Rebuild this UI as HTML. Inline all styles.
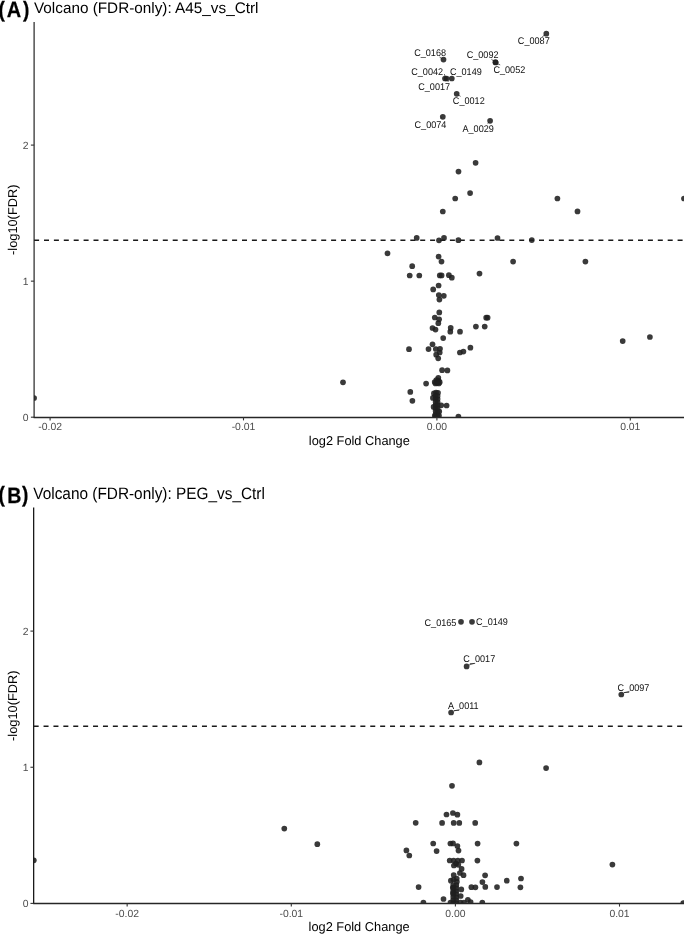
<!DOCTYPE html>
<html><head><meta charset="utf-8"><title>Volcano plots</title>
<style>html,body{margin:0;padding:0;background:#fff;width:685px;height:934px;overflow:hidden}svg{display:block;will-change:transform;text-rendering:geometricPrecision;font-family:"Liberation Sans",sans-serif}</style>
</head><body>
<svg width="685" height="934" viewBox="0 0 685 934" font-family="Liberation Sans, sans-serif">
<rect width="685" height="934" fill="#fff"/>
<clipPath id="ct"><rect x="34.1" y="16.9" width="649.9" height="400.3"/></clipPath>
<line x1="34.1" y1="240.19" x2="684.0" y2="240.19" stroke="#1a1a1a" stroke-width="1.4" stroke-dasharray="5 4.9"/>
<g clip-path="url(#ct)" fill="#1f1f1f" fill-opacity="0.88">
<circle cx="546.3" cy="33.7" r="2.85"/>
<circle cx="443.5" cy="59.6" r="2.85"/>
<circle cx="495.4" cy="62.2" r="2.85"/>
<circle cx="495.7" cy="62.5" r="2.85"/>
<circle cx="445.0" cy="78.5" r="2.85"/>
<circle cx="446.6" cy="78.5" r="2.85"/>
<circle cx="451.8" cy="78.5" r="2.85"/>
<circle cx="456.7" cy="93.8" r="2.85"/>
<circle cx="442.8" cy="116.8" r="2.85"/>
<circle cx="490.1" cy="120.8" r="2.85"/>
<circle cx="475.6" cy="162.8" r="2.85"/>
<circle cx="458.5" cy="171.6" r="2.85"/>
<circle cx="470.1" cy="193.1" r="2.85"/>
<circle cx="455.2" cy="198.5" r="2.85"/>
<circle cx="442.8" cy="211.5" r="2.85"/>
<circle cx="444.0" cy="237.9" r="2.85"/>
<circle cx="439.0" cy="240.3" r="2.85"/>
<circle cx="458.4" cy="240.2" r="2.85"/>
<circle cx="497.5" cy="238.0" r="2.85"/>
<circle cx="416.7" cy="237.9" r="2.85"/>
<circle cx="557.4" cy="198.5" r="2.85"/>
<circle cx="577.5" cy="211.4" r="2.85"/>
<circle cx="684.0" cy="198.5" r="2.85"/>
<circle cx="531.8" cy="240.1" r="2.85"/>
<circle cx="513.1" cy="261.6" r="2.85"/>
<circle cx="585.4" cy="261.6" r="2.85"/>
<circle cx="387.5" cy="253.4" r="2.85"/>
<circle cx="438.6" cy="256.6" r="2.85"/>
<circle cx="441.5" cy="261.6" r="2.85"/>
<circle cx="412.2" cy="266.2" r="2.85"/>
<circle cx="409.7" cy="275.5" r="2.85"/>
<circle cx="419.3" cy="275.5" r="2.85"/>
<circle cx="448.9" cy="275.2" r="2.85"/>
<circle cx="451.8" cy="277.7" r="2.85"/>
<circle cx="479.5" cy="273.6" r="2.85"/>
<circle cx="438.6" cy="285.5" r="2.85"/>
<circle cx="433.2" cy="289.4" r="2.85"/>
<circle cx="438.8" cy="295.0" r="2.85"/>
<circle cx="443.8" cy="295.8" r="2.85"/>
<circle cx="439.4" cy="299.6" r="2.85"/>
<circle cx="439.3" cy="312.4" r="2.85"/>
<circle cx="434.8" cy="317.5" r="2.85"/>
<circle cx="439.1" cy="319.3" r="2.85"/>
<circle cx="438.3" cy="323.2" r="2.85"/>
<circle cx="432.5" cy="328.0" r="2.85"/>
<circle cx="435.5" cy="329.6" r="2.85"/>
<circle cx="450.7" cy="327.9" r="2.85"/>
<circle cx="450.3" cy="331.7" r="2.85"/>
<circle cx="460.0" cy="331.7" r="2.85"/>
<circle cx="475.9" cy="326.6" r="2.85"/>
<circle cx="484.7" cy="326.6" r="2.85"/>
<circle cx="486.2" cy="317.7" r="2.85"/>
<circle cx="487.6" cy="317.7" r="2.85"/>
<circle cx="443.2" cy="338.1" r="2.85"/>
<circle cx="432.5" cy="344.3" r="2.85"/>
<circle cx="428.5" cy="349.1" r="2.85"/>
<circle cx="409.0" cy="349.2" r="2.85"/>
<circle cx="435.8" cy="349.0" r="2.85"/>
<circle cx="440.0" cy="348.8" r="2.85"/>
<circle cx="439.7" cy="352.5" r="2.85"/>
<circle cx="436.2" cy="354.7" r="2.85"/>
<circle cx="438.2" cy="358.3" r="2.85"/>
<circle cx="459.9" cy="352.5" r="2.85"/>
<circle cx="463.4" cy="351.6" r="2.85"/>
<circle cx="470.4" cy="347.7" r="2.85"/>
<circle cx="622.7" cy="341.1" r="2.85"/>
<circle cx="649.9" cy="337.0" r="2.85"/>
<circle cx="442.1" cy="370.2" r="2.85"/>
<circle cx="447.4" cy="370.4" r="2.85"/>
<circle cx="438.3" cy="377.8" r="2.85"/>
<circle cx="426.1" cy="383.6" r="2.85"/>
<circle cx="343.0" cy="382.3" r="2.85"/>
<circle cx="410.3" cy="391.9" r="2.85"/>
<circle cx="412.4" cy="400.8" r="2.85"/>
<circle cx="34.1" cy="398.0" r="2.85"/>
<circle cx="458.4" cy="416.5" r="2.85"/>
<circle cx="438.0" cy="392.8" r="2.85"/>
<circle cx="433.9" cy="393.4" r="2.85"/>
<circle cx="436.0" cy="392.5" r="2.85"/>
<circle cx="432.9" cy="397.9" r="2.85"/>
<circle cx="435.6" cy="396" r="2.85"/>
<circle cx="437.6" cy="396" r="2.85"/>
<circle cx="435.6" cy="399" r="2.85"/>
<circle cx="437.6" cy="399" r="2.85"/>
<circle cx="435.6" cy="402" r="2.85"/>
<circle cx="437.6" cy="402" r="2.85"/>
<circle cx="435.6" cy="405" r="2.85"/>
<circle cx="437.6" cy="405" r="2.85"/>
<circle cx="435.6" cy="408" r="2.85"/>
<circle cx="437.6" cy="408" r="2.85"/>
<circle cx="435.6" cy="411" r="2.85"/>
<circle cx="437.6" cy="411" r="2.85"/>
<circle cx="435.6" cy="414" r="2.85"/>
<circle cx="437.6" cy="414" r="2.85"/>
<circle cx="435.6" cy="417" r="2.85"/>
<circle cx="437.6" cy="417" r="2.85"/>
<circle cx="441.2" cy="405.3" r="2.85"/>
<circle cx="446.6" cy="405.5" r="2.85"/>
<circle cx="433.6" cy="406.9" r="2.85"/>
<circle cx="439.2" cy="411.4" r="2.85"/>
<circle cx="434.8" cy="415.8" r="2.85"/>
<circle cx="439.0" cy="415.8" r="2.85"/>
<circle cx="434.7" cy="382.0" r="2.85"/>
<circle cx="437.0" cy="383.0" r="2.85"/>
<circle cx="439.7" cy="382.2" r="2.85"/>
<circle cx="436.3" cy="380.2" r="2.85"/>
<circle cx="438.6" cy="380.6" r="2.85"/>
<circle cx="437.3" cy="381.6" r="2.85"/>
<circle cx="435.5" cy="383.5" r="2.85"/>
<circle cx="438.8" cy="383.5" r="2.85"/>
<circle cx="439.8" cy="275.4" r="2.85"/>
<circle cx="441.6" cy="275.4" r="2.85"/>
</g>
<line x1="542.2" y1="36.9" x2="545.0" y2="34.6" stroke="#222" stroke-width="0.7"/>
<line x1="439.6" y1="57.1" x2="442.2" y2="58.8" stroke="#222" stroke-width="0.7"/>
<line x1="491.4" y1="59.3" x2="494.0" y2="61.2" stroke="#222" stroke-width="0.7"/>
<line x1="497.0" y1="63.5" x2="500.2" y2="64.9" stroke="#222" stroke-width="0.7"/>
<line x1="444.3" y1="74.0" x2="445.2" y2="76.5" stroke="#222" stroke-width="0.7"/>
<line x1="447.6" y1="80.6" x2="448.4" y2="81.8" stroke="#222" stroke-width="0.7"/>
<line x1="457.7" y1="94.5" x2="460.6" y2="96.4" stroke="#222" stroke-width="0.7"/>
<line x1="440.6" y1="118.4" x2="442.0" y2="117.4" stroke="#222" stroke-width="0.7"/>
<line x1="489.0" y1="122.2" x2="487.6" y2="123.4" stroke="#222" stroke-width="0.7"/>
<g font-size="9.1" fill="#111">
<text transform="translate(517.84 44.30) scale(1 1.07)">C_0087</text>
<text transform="translate(414.15 55.80) scale(1 1.07)">C_0168</text>
<text transform="translate(466.65 57.90) scale(1 1.07)">C_0092</text>
<text transform="translate(493.44 73.20) scale(1 1.07)">C_0052</text>
<text transform="translate(411.25 74.60) scale(1 1.07)">C_0042</text>
<text transform="translate(449.94 74.60) scale(1 1.07)">C_0149</text>
<text transform="translate(418.25 90.00) scale(1 1.07)">C_0017</text>
<text transform="translate(452.85 104.30) scale(1 1.07)">C_0012</text>
<text transform="translate(414.55 128.20) scale(1 1.07)">C_0074</text>
<text transform="translate(462.50 132.10) scale(1 1.07)">A_0029</text>
</g>
<line x1="34.1" y1="21.9" x2="34.1" y2="417.8" stroke="#1a1a1a" stroke-width="1.15"/>
<line x1="33.6" y1="417.5" x2="684.0" y2="417.5" stroke="#262626" stroke-width="1.55"/>
<line x1="30.900000000000002" y1="417.20" x2="34.1" y2="417.20" stroke="#333" stroke-width="1.1"/>
<text x="28.6" y="420.95" font-size="10.4" fill="#4d4d4d" text-anchor="end">0</text>
<line x1="30.900000000000002" y1="281.15" x2="34.1" y2="281.15" stroke="#333" stroke-width="1.1"/>
<text x="28.6" y="284.90" font-size="10.4" fill="#4d4d4d" text-anchor="end">1</text>
<line x1="30.900000000000002" y1="145.10" x2="34.1" y2="145.10" stroke="#333" stroke-width="1.1"/>
<text x="28.6" y="148.85" font-size="10.4" fill="#4d4d4d" text-anchor="end">2</text>
<line x1="50.1" y1="417.2" x2="50.1" y2="420.4" stroke="#333" stroke-width="1.1"/>
<text x="50.1" y="430.40" font-size="10.4" fill="#4d4d4d" text-anchor="middle">-0.02</text>
<line x1="243.5" y1="417.2" x2="243.5" y2="420.4" stroke="#333" stroke-width="1.1"/>
<text x="243.5" y="430.40" font-size="10.4" fill="#4d4d4d" text-anchor="middle">-0.01</text>
<line x1="436.9" y1="417.2" x2="436.9" y2="420.4" stroke="#333" stroke-width="1.1"/>
<text x="436.9" y="430.40" font-size="10.4" fill="#4d4d4d" text-anchor="middle">0.00</text>
<line x1="630.3" y1="417.2" x2="630.3" y2="420.4" stroke="#333" stroke-width="1.1"/>
<text x="630.3" y="430.40" font-size="10.4" fill="#4d4d4d" text-anchor="middle">0.01</text>
<text x="359.35" y="445.20" font-size="12.8" fill="#000" text-anchor="middle">log2 Fold Change</text>
<text transform="translate(17.0 219.75) rotate(-90)" font-size="12.8" fill="#000" text-anchor="middle">-log10(FDR)</text>
<text transform="translate(34.0 12.7) scale(1 1.0)" font-size="15.3" fill="#000">Volcano (FDR-only): A45_vs_Ctrl</text>
<g font-weight="bold" fill="#000" stroke="#000" stroke-width="0.25">
<text transform="translate(-1.59 16.60) scale(0.86 1)" font-size="22.2">(</text>
<text transform="translate(6.8 16.50) scale(0.9 1)" font-size="22.2">A</text>
<text transform="translate(23.1 16.60) scale(0.86 1)" font-size="22.2">)</text>
</g>
<clipPath id="cb"><rect x="33.65" y="502.6" width="650.35" height="400.79999999999995"/></clipPath>
<line x1="33.65" y1="726.26" x2="684.0" y2="726.26" stroke="#1a1a1a" stroke-width="1.4" stroke-dasharray="5 4.9"/>
<g clip-path="url(#cb)" fill="#1f1f1f" fill-opacity="0.88">
<circle cx="461.0" cy="621.8" r="2.85"/>
<circle cx="472.0" cy="621.8" r="2.85"/>
<circle cx="466.6" cy="666.4" r="2.85"/>
<circle cx="451.1" cy="712.5" r="2.85"/>
<circle cx="621.3" cy="694.5" r="2.85"/>
<circle cx="479.4" cy="762.4" r="2.85"/>
<circle cx="546.1" cy="768.1" r="2.85"/>
<circle cx="452.0" cy="785.8" r="2.85"/>
<circle cx="446.5" cy="814.5" r="2.85"/>
<circle cx="452.9" cy="813.0" r="2.85"/>
<circle cx="457.4" cy="814.7" r="2.85"/>
<circle cx="442.1" cy="822.9" r="2.85"/>
<circle cx="453.7" cy="822.9" r="2.85"/>
<circle cx="459.3" cy="822.9" r="2.85"/>
<circle cx="475.2" cy="822.9" r="2.85"/>
<circle cx="415.7" cy="822.8" r="2.85"/>
<circle cx="284.3" cy="828.6" r="2.85"/>
<circle cx="317.3" cy="844.2" r="2.85"/>
<circle cx="33.8" cy="860.3" r="2.85"/>
<circle cx="433.2" cy="843.5" r="2.85"/>
<circle cx="436.6" cy="851.1" r="2.85"/>
<circle cx="406.4" cy="850.4" r="2.85"/>
<circle cx="409.3" cy="855.5" r="2.85"/>
<circle cx="450.4" cy="843.5" r="2.85"/>
<circle cx="453.0" cy="843.4" r="2.85"/>
<circle cx="457.4" cy="846.0" r="2.85"/>
<circle cx="458.5" cy="850.6" r="2.85"/>
<circle cx="477.6" cy="843.6" r="2.85"/>
<circle cx="477.4" cy="860.6" r="2.85"/>
<circle cx="516.4" cy="843.6" r="2.85"/>
<circle cx="612.4" cy="864.6" r="2.85"/>
<circle cx="418.6" cy="887.1" r="2.85"/>
<circle cx="423.4" cy="902.6" r="2.85"/>
<circle cx="471.4" cy="887.2" r="2.85"/>
<circle cx="475.4" cy="887.3" r="2.85"/>
<circle cx="482.4" cy="882.1" r="2.85"/>
<circle cx="485.1" cy="875.3" r="2.85"/>
<circle cx="485.3" cy="886.9" r="2.85"/>
<circle cx="497.0" cy="887.1" r="2.85"/>
<circle cx="506.8" cy="880.7" r="2.85"/>
<circle cx="521.0" cy="878.5" r="2.85"/>
<circle cx="520.4" cy="887.3" r="2.85"/>
<circle cx="482.3" cy="902.6" r="2.85"/>
<circle cx="683.3" cy="903.0" r="2.85"/>
<circle cx="449.7" cy="860.5" r="2.85"/>
<circle cx="453.6" cy="860.5" r="2.85"/>
<circle cx="457.8" cy="860.5" r="2.85"/>
<circle cx="462.0" cy="860.5" r="2.85"/>
<circle cx="453.9" cy="865.5" r="2.85"/>
<circle cx="458.3" cy="864.8" r="2.85"/>
<circle cx="456.0" cy="863.5" r="2.85"/>
<circle cx="461.6" cy="868.9" r="2.85"/>
<circle cx="459.9" cy="873.0" r="2.85"/>
<circle cx="463.5" cy="875.2" r="2.85"/>
<circle cx="453.7" cy="875.0" r="2.85"/>
<circle cx="456.7" cy="878.5" r="2.85"/>
<circle cx="450.9" cy="880.7" r="2.85"/>
<circle cx="456.9" cy="881.8" r="2.85"/>
<circle cx="453.5" cy="879.5" r="2.85"/>
<circle cx="453.2" cy="885" r="2.85"/>
<circle cx="456.3" cy="885" r="2.85"/>
<circle cx="453.2" cy="888" r="2.85"/>
<circle cx="456.3" cy="888" r="2.85"/>
<circle cx="453.2" cy="891" r="2.85"/>
<circle cx="456.3" cy="891" r="2.85"/>
<circle cx="453.2" cy="894" r="2.85"/>
<circle cx="456.3" cy="894" r="2.85"/>
<circle cx="453.2" cy="897" r="2.85"/>
<circle cx="456.3" cy="897" r="2.85"/>
<circle cx="453.2" cy="900" r="2.85"/>
<circle cx="456.3" cy="900" r="2.85"/>
<circle cx="453.2" cy="903" r="2.85"/>
<circle cx="456.3" cy="903" r="2.85"/>
<circle cx="461.3" cy="889.4" r="2.85"/>
<circle cx="460.7" cy="896.0" r="2.85"/>
<circle cx="452.9" cy="887.5" r="2.85"/>
<circle cx="453.0" cy="893.0" r="2.85"/>
<circle cx="443.5" cy="899.0" r="2.85"/>
<circle cx="467.9" cy="899.8" r="2.85"/>
<circle cx="470.6" cy="902.0" r="2.85"/>
<circle cx="464.0" cy="902.5" r="2.85"/>
<circle cx="460.5" cy="902.5" r="2.85"/>
<circle cx="450.5" cy="902.5" r="2.85"/>
</g>
<line x1="469.0" y1="665.0" x2="474.5" y2="663.3" stroke="#222" stroke-width="0.7"/>
<line x1="453.8" y1="711.0" x2="459.5" y2="709.5" stroke="#222" stroke-width="0.7"/>
<line x1="623.9" y1="692.8" x2="629.5" y2="691.2" stroke="#222" stroke-width="0.7"/>
<g font-size="9.1" fill="#111">
<text transform="translate(424.55 625.90) scale(1 1.07)">C_0165</text>
<text transform="translate(476.05 625.30) scale(1 1.07)">C_0149</text>
<text transform="translate(463.35 661.70) scale(1 1.07)">C_0017</text>
<text transform="translate(448.00 708.60) scale(1 1.07)">A_0011</text>
<text transform="translate(617.54 690.70) scale(1 1.07)">C_0097</text>
</g>
<line x1="33.65" y1="507.6" x2="33.65" y2="904.0" stroke="#1a1a1a" stroke-width="1.3"/>
<line x1="33.15" y1="903.55" x2="684.0" y2="903.55" stroke="#262626" stroke-width="1.55"/>
<line x1="30.45" y1="903.40" x2="33.65" y2="903.40" stroke="#333" stroke-width="1.1"/>
<text x="28.6" y="907.15" font-size="10.4" fill="#4d4d4d" text-anchor="end">0</text>
<line x1="30.45" y1="767.25" x2="33.65" y2="767.25" stroke="#333" stroke-width="1.1"/>
<text x="28.6" y="771.00" font-size="10.4" fill="#4d4d4d" text-anchor="end">1</text>
<line x1="30.45" y1="631.10" x2="33.65" y2="631.10" stroke="#333" stroke-width="1.1"/>
<text x="28.6" y="634.85" font-size="10.4" fill="#4d4d4d" text-anchor="end">2</text>
<line x1="127.15" y1="903.4" x2="127.15" y2="906.6" stroke="#333" stroke-width="1.1"/>
<text x="127.15" y="916.60" font-size="10.4" fill="#4d4d4d" text-anchor="middle">-0.02</text>
<line x1="291.3" y1="903.4" x2="291.3" y2="906.6" stroke="#333" stroke-width="1.1"/>
<text x="291.3" y="916.60" font-size="10.4" fill="#4d4d4d" text-anchor="middle">-0.01</text>
<line x1="455.4" y1="903.4" x2="455.4" y2="906.6" stroke="#333" stroke-width="1.1"/>
<text x="455.4" y="916.60" font-size="10.4" fill="#4d4d4d" text-anchor="middle">0.00</text>
<line x1="619.5" y1="903.4" x2="619.5" y2="906.6" stroke="#333" stroke-width="1.1"/>
<text x="619.5" y="916.60" font-size="10.4" fill="#4d4d4d" text-anchor="middle">0.01</text>
<text x="359.12" y="931.00" font-size="12.8" fill="#000" text-anchor="middle">log2 Fold Change</text>
<text transform="translate(17.0 705.70) rotate(-90)" font-size="12.8" fill="#000" text-anchor="middle">-log10(FDR)</text>
<text transform="translate(33.3 498.5) scale(1 1.075)" font-size="15.38" fill="#000">Volcano (FDR-only): PEG_vs_Ctrl</text>
<g font-weight="bold" fill="#000" stroke="#000" stroke-width="0.25">
<text transform="translate(-1.59 502.40) scale(0.86 1)" font-size="22.2">(</text>
<text transform="translate(7.23 502.70) scale(0.88 1)" font-size="22.2">B</text>
<text transform="translate(21.9 502.40) scale(0.86 1)" font-size="22.2">)</text>
</g>
</svg>
</body></html>
